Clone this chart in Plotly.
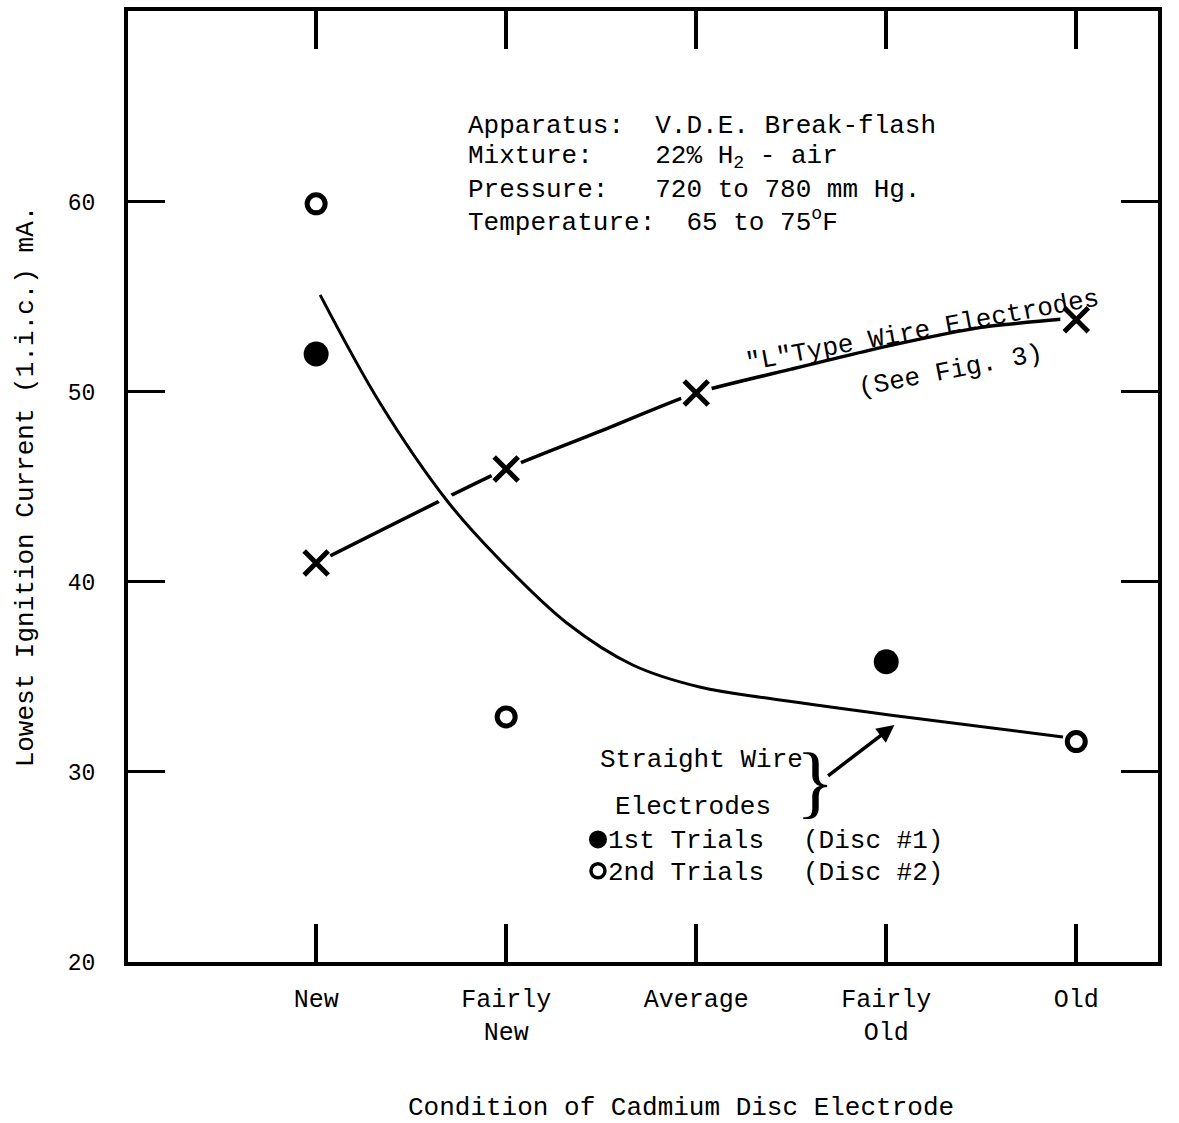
import plotly.graph_objects as go

# ---- data -------------------------------------------------------------
conditions = ["New", "Fairly<br>New", "Average", "Fairly<br>Old", "Old"]
cond_pos = [0, 1, 2, 3, 4]

y_ticks = [20, 30, 40, 50, 60]

# Straight wire electrodes, disc #1 (1st trials)
first_x = [0, 3]
first_y = [52.0, 35.8]

# Straight wire electrodes, disc #2 (2nd trials)
second_x = [0, 1, 4]
second_y = [59.9, 32.9, 31.6]

# "L" type wire electrodes
ltype_x = [0, 1, 2, 4]
ltype_y = [41.0, 45.95, 49.95, 53.8]

# hand-drawn trend through the "L" type points
ltype_curve_x = [0.0, 1.0, 1.5, 2.0, 2.5, 3.0, 3.5, 3.95]
ltype_curve_y = [41.0, 45.95, 47.95, 49.95, 51.2, 52.4, 53.4, 53.85]

# hand-drawn trend for the straight wire electrodes
straight_curve_x = [0.021, 0.336, 0.694, 0.967, 1.319, 1.666, 2.018,
                    2.371, 3.017, 3.93]
straight_curve_y = [55.11, 49.42, 44.21, 41.16, 37.84, 35.63, 34.47,
                    33.89, 33.0, 31.84]

# ---- styling -----------------------------------------------------------
FONT = "Liberation Mono"
INK = "black"
X_RANGE = [-0.99, 4.43]
Y_RANGE = [20, 70.05]

fig = go.Figure()

# "L" type trend line
fig.add_trace(go.Scatter(
    x=ltype_curve_x, y=ltype_curve_y, mode="lines",
    line=dict(color=INK, width=3.5, shape="spline", smoothing=0.6),
    hoverinfo="skip", showlegend=False))

# white halo so the straight-wire curve crosses over the "L" line with a gap
fig.add_trace(go.Scatter(
    x=straight_curve_x, y=straight_curve_y, mode="lines",
    line=dict(color="white", width=14, shape="spline", smoothing=1.0),
    hoverinfo="skip", showlegend=False))

fig.add_trace(go.Scatter(
    x=straight_curve_x, y=straight_curve_y, mode="lines",
    line=dict(color=INK, width=3, shape="spline", smoothing=1.0),
    hoverinfo="skip", showlegend=False))

# clear space round the crosses
fig.add_trace(go.Scatter(
    x=ltype_x, y=ltype_y, mode="markers",
    marker=dict(symbol="circle", size=32, color="white", line=dict(width=0)),
    hoverinfo="skip", showlegend=False))

fig.add_trace(go.Scatter(
    x=ltype_x, y=ltype_y, mode="markers", name='"L" Type',
    marker=dict(symbol="x-thin", size=24, color=INK,
                line=dict(width=5, color=INK)),
    showlegend=False))

fig.add_trace(go.Scatter(
    x=first_x, y=first_y, mode="markers", name="1st Trials",
    marker=dict(symbol="circle", size=25, color=INK, line=dict(width=0)),
    showlegend=False))

fig.add_trace(go.Scatter(
    x=second_x, y=second_y, mode="markers", name="2nd Trials",
    marker=dict(symbol="circle-open", size=18, color=INK,
                line=dict(width=5, color=INK)),
    showlegend=False))

# ---- text --------------------------------------------------------------
def txt(x, y, text, anchor="left", angle=0, size=26):
    fig.add_annotation(x=x, y=y, xref="x", yref="y", text=text,
                       showarrow=False, xanchor=anchor, yanchor="middle",
                       textangle=angle,
                       font=dict(family=FONT, size=size, color=INK))

info_lines = [
    "Apparatus:  V.D.E. Break-flash",
    "Mixture:    22% H<sub>2</sub> - air",
    "Pressure:   720 to 780 mm Hg.",
    "Temperature:  65 to 75<sup>o</sup>F",
]
info_y = [64.0, 62.37, 60.63, 59.0]
for line, yy in zip(info_lines, info_y):
    txt(0.79, yy, line)

txt(3.19, 53.2, '"L"Type Wire Electrodes', anchor="center", angle=-10.5)
txt(3.34, 51.1, "(See Fig. 3)", anchor="center", angle=-11)

txt(1.485, 30.65, "Straight Wire")
txt(1.56, 28.15, "Electrodes")
txt(1.525, 26.37, "1st Trials")
txt(2.55, 26.37, "(Disc #1)")
txt(1.525, 24.7, "2nd Trials")
txt(2.55, 24.7, "(Disc #2)")

# legend keys
fig.add_shape(type="circle", xref="x", yref="y", xsizemode="pixel",
              ysizemode="pixel", xanchor=1.483, yanchor=26.45,
              x0=-9, x1=9, y0=-9, y1=9, fillcolor=INK, line=dict(width=0))
fig.add_shape(type="circle", xref="x", yref="y", xsizemode="pixel",
              ysizemode="pixel", xanchor=1.483, yanchor=24.8,
              x0=-7, x1=7, y0=-7, y1=7, fillcolor="white",
              line=dict(width=3.5, color=INK))

# brace and pointer to the straight-wire curve
fig.add_annotation(x=2.625, y=29.5, xref="x", yref="y", text="}",
                   showarrow=False, xanchor="center", yanchor="middle",
                   font=dict(family="Liberation Serif", size=80, color=INK))
fig.add_annotation(x=3.043, y=32.47, ax=2.686, ay=29.74,
                   xref="x", yref="y", axref="x", ayref="y",
                   text="", showarrow=True, arrowhead=2, arrowsize=1,
                   arrowwidth=3.5, arrowcolor=INK)

# x-axis title, set slightly right of the plot centre
fig.add_annotation(x=0.537, y=-0.1535, xref="paper", yref="paper",
                   text="Condition of Cadmium Disc Electrode",
                   showarrow=False, xanchor="center", yanchor="middle",
                   font=dict(family=FONT, size=26, color=INK))

# ---- axes --------------------------------------------------------------
fig.update_xaxes(
    range=X_RANGE, tickvals=cond_pos, ticktext=conditions,
    ticks="inside", ticklen=38, tickwidth=3.5, tickcolor=INK,
    showline=True, linewidth=4, linecolor=INK, mirror="ticks",
    showgrid=False, zeroline=False, ticklabelstandoff=11,
    automargin=False,
    tickfont=dict(family=FONT, size=25, color=INK))

fig.update_yaxes(
    range=Y_RANGE, tickvals=y_ticks, ticktext=[str(v) for v in y_ticks],
    ticks="inside", ticklen=37, tickwidth=3, tickcolor=INK,
    showline=True, linewidth=4, linecolor=INK, mirror="ticks",
    showgrid=False, zeroline=False, ticklabelstandoff=24,
    automargin=False,
    tickfont=dict(family=FONT, size=23, color=INK),
    title=dict(text="Lowest Ignition Current (1.i.c.) mA.", standoff=28,
               font=dict(family=FONT, size=26, color=INK)))

fig.update_layout(
    width=1179, height=1123,
    margin=dict(l=128, r=21, t=11, b=161),
    paper_bgcolor="white", plot_bgcolor="white",
    showlegend=False,
)

fig.write_html("out.html", config={"displayModeBar": False})
